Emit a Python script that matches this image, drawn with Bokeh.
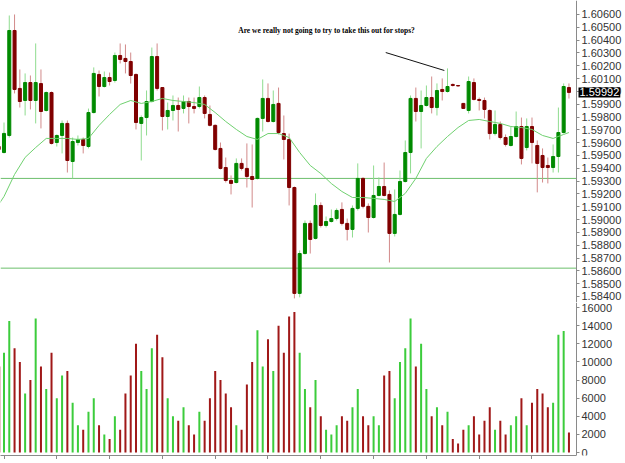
import numpy as np
from bokeh.plotting import figure
from bokeh.layouts import column
from bokeh.models import (Range1d, FixedTicker, NumeralTickFormatter, Label,
                          ColumnDataSource, CustomJSTickFormatter)
from bokeh.embed import file_html
from bokeh.resources import INLINE

# ---------------- data ----------------
bar_index = list(range(-1, 108))

opens = [1.59570, 1.59523, 1.59656, 1.60475, 1.60023, 1.59929, 1.60069, 1.59929, 1.60061, 1.59851,
         1.59991, 1.59601, 1.59656, 1.59750, 1.59453, 1.59601, 1.59625, 1.59570, 1.59835, 1.60132,
         1.60038, 1.60108, 1.60085, 1.60280, 1.60257, 1.60233, 1.60132, 1.59750, 1.59796, 1.59921,
         1.60272, 1.60030, 1.59804, 1.59851, 1.59890, 1.59867, 1.59921, 1.59882, 1.59882, 1.59952,
         1.59820, 1.59735, 1.59555, 1.59406, 1.59305, 1.59289, 1.59438, 1.59399, 1.59336, 1.59321,
         1.59789, 1.59945, 1.59765, 1.59906, 1.59671, 1.59625, 1.59250, 1.58424, 1.58735, 1.58970,
         1.58853, 1.59110, 1.58954, 1.58985, 1.59008, 1.59079, 1.58970, 1.58923, 1.59087, 1.59321,
         1.59103, 1.59016, 1.59188, 1.59258, 1.59196, 1.58892, 1.59040, 1.59297, 1.59523, 1.59945,
         1.59843, 1.59890, 1.59952, 1.59874, 1.60015, 1.59999, 1.60054, 1.60046, 1.59906, 1.59851,
         1.60069, 1.59937, 1.59929, 1.59851, 1.59671, 1.59742, 1.59640, 1.59578, 1.59648, 1.59726,
         1.59562, 1.59726, 1.59578, 1.59500, 1.59422, 1.59406, 1.59492, 1.59679, 1.60030]
highs = [1.59586, 1.59757, 1.60592, 1.60600, 1.60171, 1.60140, 1.60124, 1.60374, 1.60171, 1.59999,
         1.59999, 1.59664, 1.59773, 1.59773, 1.59640, 1.59656, 1.59640, 1.59866, 1.60187, 1.60163,
         1.60155, 1.60147, 1.60303, 1.60374, 1.60366, 1.60303, 1.60140, 1.59812, 1.60007, 1.60342,
         1.60374, 1.60030, 1.59913, 1.59968, 1.59952, 1.59968, 1.59952, 1.59952, 1.60038, 1.59968,
         1.59890, 1.59742, 1.59601, 1.59484, 1.59344, 1.59477, 1.59477, 1.59594, 1.59586, 1.59796,
         1.60093, 1.60062, 1.60007, 1.60030, 1.59812, 1.59671, 1.59258, 1.58759, 1.58993, 1.58993,
         1.59204, 1.59134, 1.59024, 1.59079, 1.59087, 1.59134, 1.59008, 1.59110, 1.59438, 1.59329,
         1.59126, 1.59422, 1.59329, 1.59445, 1.59227, 1.59235, 1.59383, 1.59617, 1.59968, 1.60030,
         1.60007, 1.60046, 1.60116, 1.60062, 1.60101, 1.60179, 1.60062, 1.60048, 1.59910, 1.60116,
         1.60101, 1.59952, 1.59952, 1.59859, 1.59851, 1.59765, 1.59664, 1.59726, 1.59843, 1.59796,
         1.59789, 1.59796, 1.59617, 1.59555, 1.59484, 1.59586, 1.59874, 1.60062, 1.60062]
lows = [1.59523, 1.59516, 1.59640, 1.59984, 1.59874, 1.59812, 1.59859, 1.59750, 1.59711, 1.59843,
        1.59586, 1.59570, 1.59516, 1.59367, 1.59321, 1.59578, 1.59516, 1.59555, 1.59828, 1.59960,
        1.60030, 1.60046, 1.60069, 1.60218, 1.60140, 1.60061, 1.59703, 1.59461, 1.59656, 1.59913,
        1.60007, 1.59695, 1.59703, 1.59773, 1.59687, 1.59828, 1.59750, 1.59828, 1.59867, 1.59789,
        1.59727, 1.59539, 1.59391, 1.59289, 1.59196, 1.59282, 1.59383, 1.59250, 1.59094, 1.59313,
        1.59687, 1.59757, 1.59757, 1.59664, 1.59469, 1.59110, 1.58385, 1.58393, 1.58728, 1.58735,
        1.58845, 1.58938, 1.58938, 1.58977, 1.58993, 1.58954, 1.58837, 1.58860, 1.59071, 1.59087,
        1.58899, 1.59008, 1.59181, 1.59181, 1.58665, 1.58868, 1.59032, 1.59289, 1.59360, 1.59765,
        1.59555, 1.59882, 1.59828, 1.59812, 1.59929, 1.59991, 1.60038, 1.60040, 1.59864, 1.59828,
        1.59929, 1.59851, 1.59789, 1.59625, 1.59656, 1.59625, 1.59570, 1.59570, 1.59640, 1.59430,
        1.59539, 1.59438, 1.59212, 1.59289, 1.59282, 1.59367, 1.59367, 1.59671, 1.59944]
closes = [1.59547, 1.59672, 1.60475, 1.60015, 1.59921, 1.60069, 1.59929, 1.60069, 1.59843, 1.59991,
          1.59594, 1.59656, 1.59750, 1.59461, 1.59609, 1.59625, 1.59578, 1.59835, 1.60140, 1.60038,
          1.60108, 1.60077, 1.60280, 1.60249, 1.60233, 1.60124, 1.59757, 1.59796, 1.59921, 1.60272,
          1.60023, 1.59804, 1.59851, 1.59890, 1.59859, 1.59921, 1.59882, 1.59867, 1.59952, 1.59828,
          1.59735, 1.59547, 1.59399, 1.59305, 1.59282, 1.59438, 1.59399, 1.59336, 1.59313, 1.59789,
          1.59945, 1.59765, 1.59898, 1.59679, 1.59625, 1.59250, 1.58424, 1.58735, 1.58970, 1.58845,
          1.59110, 1.58954, 1.58985, 1.59008, 1.59071, 1.58970, 1.58923, 1.59087, 1.59321, 1.59103,
          1.59016, 1.59188, 1.59258, 1.59188, 1.58892, 1.59040, 1.59297, 1.59523, 1.59945, 1.59843,
          1.59890, 1.59952, 1.59874, 1.60007, 1.59999, 1.60038, 1.60046, 1.60042, 1.59867, 1.60077,
          1.59937, 1.59929, 1.59859, 1.59671, 1.59742, 1.59640, 1.59586, 1.59648, 1.59726, 1.59477,
          1.59726, 1.59601, 1.59438, 1.59406, 1.59406, 1.59492, 1.59679, 1.60038, 1.59992]
volumes = [9500, 11000, 14500, 11500, 10000, 6500, 8000, 14800, 9500, 7000,
           11000, 6000, 8500, 9000, 5500, 3000, 2500, 4500, 6000, 3000,
           2000, 1500, 4000, 2500, 6500, 8500, 12000, 9000, 7000, 11500,
           13000, 10500, 6000, 4000, 3500, 5000, 3000, 2000, 4500, 3500,
           6000, 9000, 8000, 6500, 5000, 3000, 2500, 7500, 10000, 13500,
           9500, 12500, 9000, 14000, 11000, 15000, 15500, 11000, 7000, 5000,
           8000, 4000, 2500, 2000, 3000, 4000, 3500, 5000, 7000, 4000,
           3000, 4000, 3000, 8500, 9000, 6000, 10000, 11500, 14800, 9500,
           12000, 7000, 4000, 5000, 3000, 4500, 1500, 1000, 2500, 3000,
           4000, 2000, 3500, 5000, 2500, 3500, 2000, 3000, 4000, 6000,
           3000, 5500, 7000, 6500, 5000, 5500, 13000, 13400, 2200]

ma_index = [-1, 0, 2, 4, 6, 8, 10, 12, 14, 16, 18, 20, 22, 24, 26, 28, 30, 32, 34, 36,
            38, 40, 42, 44, 46, 48, 50, 52, 54, 56, 58, 60, 62, 64, 66, 68, 70, 72, 74, 76,
            78, 80, 82, 84, 86, 88, 90, 92, 94, 96, 98, 100, 102, 104, 106, 107]
ma_values = [1.59118, 1.59180, 1.59352, 1.59485, 1.59562, 1.59633, 1.59633, 1.59633, 1.59625, 1.59633,
             1.59734, 1.59820, 1.59898, 1.59929, 1.59906, 1.59921, 1.59945, 1.59929, 1.59921, 1.59913,
             1.59898, 1.59835, 1.59765, 1.59703, 1.59648, 1.59625, 1.59671, 1.59671, 1.59640, 1.59523,
             1.59422, 1.59359, 1.59281, 1.59219, 1.59172, 1.59172, 1.59165, 1.59157, 1.59141, 1.59204,
             1.59321, 1.59477, 1.59570, 1.59648, 1.59718, 1.59773, 1.59781, 1.59765, 1.59750, 1.59726,
             1.59718, 1.59703, 1.59656, 1.59633, 1.59664, 1.59679]

levels = [1.59321, 1.58621]
price_ticks = [round(1.584 + 0.001 * k, 3) for k in range(23)]
volume_ticks = [0, 2000, 4000, 6000, 8000, 10000, 12000, 14000, 16000]
time_ticks = list(range(0, 108, 10))
note_text = "Are we really not going to try to take this out for stops?"
note_x = [61.1]
note_y = [1.60475]
pointer_x = [72.3, 83.4]
pointer_y = [1.60303, 1.60163]
last_price = 1.59992

# ---------------- layout constants ----------------
X_START, AXIS_X, X_END = -0.663, 108.43, 117.71   # bar-index units
UP_BODY, UP_WICK = "#008a00", "#8fdc8f"
DN_BODY, DN_WICK = "#800000", "#d28a8a"
VOL_UP, VOL_DN = "#3ccc3c", "#a01818"
FONT = "Liberation Sans"

up = [c >= o for o, c in zip(opens, closes)]
src = ColumnDataSource(dict(
    x=bar_index, o=opens, h=highs, l=lows, c=closes, v=volumes,
    top=[max(o, c) for o, c in zip(opens, closes)],
    bot=[min(o, c) for o, c in zip(opens, closes)],
    body=[UP_BODY if u else DN_BODY for u in up],
    wick=[UP_WICK if u else DN_WICK for u in up],
    vcol=[VOL_UP if u else VOL_DN for u in up],
))

xr = Range1d(X_START, X_END)


def style_axis(ax):
    ax.axis_line_color = "#8a8a8a"
    ax.major_tick_line_color = "#8a8a8a"
    ax.major_tick_out = 3
    ax.major_tick_in = 0
    ax.minor_tick_line_color = None
    ax.major_label_text_font = FONT
    ax.major_label_text_font_size = "11px"
    ax.major_label_text_color = "#333333"
    ax.major_label_standoff = 2


# ---------------- price pane ----------------
p = figure(frame_width=625, frame_height=302, x_range=xr, y_range=Range1d(1.58353, 1.60709),
           y_axis_location="right", x_axis_location=None, output_backend="svg",
           toolbar_location=None, min_border_left=0, min_border_top=0,
           min_border_bottom=0, min_border_right=0)
p.outline_line_color = None
p.grid.visible = False
p.yaxis.ticker = FixedTicker(ticks=price_ticks)
p.yaxis.formatter = NumeralTickFormatter(format="0.00000")
p.yaxis.fixed_location = AXIS_X
style_axis(p.yaxis[0])

p.segment(x0=[X_START] * len(levels), y0=levels, x1=[AXIS_X] * len(levels), y1=levels,
          line_color="#6cbf6c", line_width=1)
p.segment(x0="x", y0="h", x1="x", y1="l", color="wick", line_width=1, source=src)
p.vbar(x="x", width=0.57, top="top", bottom="bot", fill_color="body", line_color="body",
       line_width=1, source=src)
p.line(ma_index, ma_values, line_color="#6fd06f", line_width=1)
p.line(pointer_x, pointer_y, line_color="#111111", line_width=1)

p.add_layout(Label(x=note_x[0], y=note_y[0], text=note_text, text_align="center",
                   text_baseline="middle", text_font="Liberation Serif", text_font_style="bold",
                   text_font_size="7.5px", text_color="#000000"))
p.add_layout(Label(x=AXIS_X, y=last_price, x_offset=2, text=f"{last_price:.5f}",
                   text_baseline="middle", text_font=FONT, text_font_size="11px",
                   text_color="white", background_fill_color="black", padding=1))

# ---------------- volume pane ----------------
v = figure(frame_width=625, frame_height=153, x_range=xr, y_range=Range1d(-331, 16552),
           y_axis_location="right", output_backend="svg", toolbar_location=None,
           min_border_left=0, min_border_top=0, min_border_bottom=0, min_border_right=0)
v.outline_line_color = None
v.grid.visible = False
v.yaxis.ticker = FixedTicker(ticks=volume_ticks)
v.yaxis.formatter = NumeralTickFormatter(format="0")
v.yaxis.fixed_location = AXIS_X
style_axis(v.yaxis[0])
v.xaxis.ticker = FixedTicker(ticks=time_ticks)
style_axis(v.xaxis[0])
v.xaxis.bounds = (X_START, AXIS_X)
v.xaxis.formatter = CustomJSTickFormatter(code="return ''")
v.xaxis.major_label_standoff = 0
v.xaxis.major_tick_out = 4
v.vbar(x="x", width=0.38, top="v", bottom=0, fill_color="vcol", line_color=None, source=src)

layout = column(p, v, spacing=0)
open("out.html", "w").write(file_html(layout, INLINE))
